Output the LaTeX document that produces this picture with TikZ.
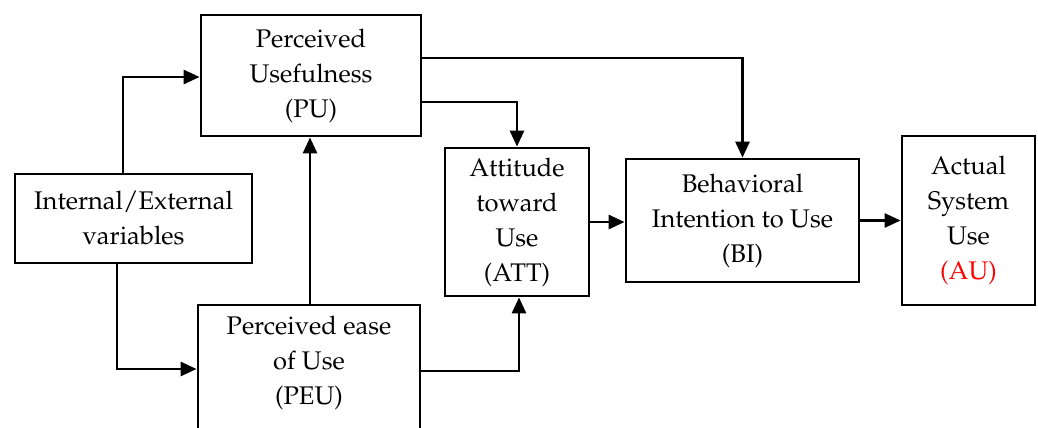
\documentclass[tikz,border=0pt]{standalone}
\usepackage[T1]{fontenc}
\usepackage{mathpazo}
\usetikzlibrary{arrows.meta}
\begin{document}
\begin{tikzpicture}[x=1pt,y=-1pt,
  box/.style={draw,line width=2.8pt,rectangle,align=center,inner sep=0pt},
  txt/.style={align=center,inner sep=0pt},
  arr/.style={line width=2.8pt,-{Triangle[length=16pt,width=14pt]}},
  every node/.append style={font=\fontsize{25.5}{35}\selectfont}]
\useasboundingbox (0,0) rectangle (1038,428);
\clip (0,0) rectangle (1038,428);
\fill[white] (0,0) rectangle (1038,428);
\node[box,minimum width=220pt,minimum height=121pt] (PU) at (311,75.5) {Perceived\\Usefulness\\(PU)};
\node[box,minimum width=237pt,minimum height=89pt] (IE) at (133.5,218.5) {Internal/External\\variables};
\node[box,minimum width=222pt,minimum height=145pt] (PEU) at (309,377.5) {};
\node[txt] (PEUt) at (309,363) {Perceived ease\\of Use\\(PEU)};
\node[box,minimum width=144pt,minimum height=148pt] (ATT) at (517,222) {Attitude\\toward\\Use\\(ATT)};
\node[box,minimum width=233pt,minimum height=123pt] (BI) at (742.5,220.5) {Behavioral\\Intention to Use\\(BI)};
\node[box,minimum width=133pt,minimum height=169pt] (AU) at (968.5,220.5) {Actual\\System\\Use\\\textcolor{red}{(AU)}};
\draw[arr] ([xshift=-10.5pt]IE.north) |- ([yshift=-1.5pt]PU.west);
\draw[arr] ([xshift=-16.5pt]IE.south) |- ([yshift=8.5pt]PEU.west);
\draw[arr] ([xshift=1pt]PEU.north) -- ([xshift=1pt]PEU.north |- PU.south);
\draw[arr] ([yshift=17.5pt]PU.east) -| (BI.north);
\draw[arr] ([yshift=-26.5pt]PU.east) -| (ATT.north);
\draw[arr] ([yshift=6.5pt]PEU.east) -| ([xshift=2pt]ATT.south);
\draw[arr] (ATT.east) -- (ATT.east -| BI.west);
\draw[arr] (BI.east) -- (AU.west);
\end{tikzpicture}
\end{document}
